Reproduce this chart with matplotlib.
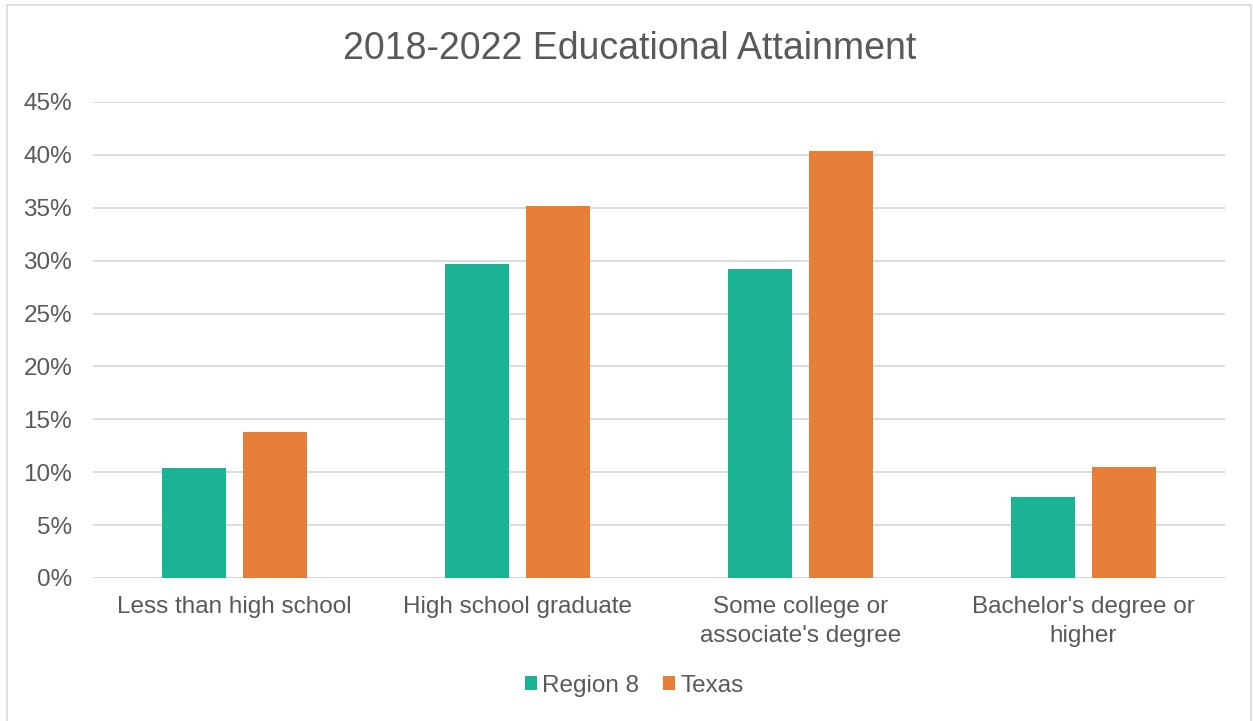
import numpy as np
import matplotlib
matplotlib.use("Agg")
import matplotlib.pyplot as plt
from matplotlib.patches import Rectangle
from matplotlib.ticker import FuncFormatter

plt.rcParams['font.family'] = ['Liberation Sans', 'DejaVu Sans']

categories = ["Less than high school", "High school graduate",
              "Some college or\nassociate's degree", "Bachelor's degree or\nhigher"]
region8 = [10.4, 29.7, 29.2, 7.7]
texas = [13.8, 35.2, 40.4, 10.5]
series_names = ["Region 8", "Texas"]

text_col = '#595959'
grid_col = '#d9d9d9'

fig = plt.figure(figsize=(12.53, 7.21), dpi=100)
ax = fig.add_axes([93 / 1253, 143 / 721, 1132 / 1253, 476 / 721])

x = np.arange(len(categories))
w = 0.226
off = 0.142
ax.bar(x - off, region8, w, color='#1ab394', label=series_names[0], zorder=3)
ax.bar(x + off, texas, w, color='#e87f38', label=series_names[1], zorder=3)

ax.set_xlim(-0.5, len(categories) - 0.5)
ax.set_ylim(0, 45)
ax.set_yticks(np.arange(0, 46, 5))
ax.yaxis.set_major_formatter(FuncFormatter(lambda v, p: f"{v:.0f}%"))
ax.grid(axis='y', color=grid_col, linewidth=1.3, zorder=0)
ax.set_xticks(x)
ax.set_xticklabels(categories, linespacing=1.38)
ax.tick_params(axis='both', length=0, labelsize=17.5, colors=text_col)
ax.tick_params(axis='y', pad=15)
ax.tick_params(axis='x', pad=13)
for s in ax.spines.values():
    s.set_visible(False)
ax.axhline(0, color=grid_col, linewidth=1.3, zorder=2)

fig.text(630 / 1253, 1 - 59 / 721, "2018-2022 Educational Attainment",
         ha='center', va='baseline', fontsize=27, color=text_col)

leg = fig.legend(loc='center', bbox_to_anchor=(634 / 1253, 1 - 686 / 721), ncol=2,
                 frameon=False, fontsize=17.5, handlelength=0.5, handleheight=0.5,
                 handletextpad=0.2, columnspacing=1.0)
for t in leg.get_texts():
    t.set_color(text_col)

# outer chart border
fig.patches.append(Rectangle((7 / 1253, -0.01), 1244 / 1253, 1 - 5 / 721 + 0.01,
                             transform=fig.transFigure, fill=False,
                             edgecolor=grid_col, linewidth=1.2))

fig.savefig("out.png", dpi=100)
